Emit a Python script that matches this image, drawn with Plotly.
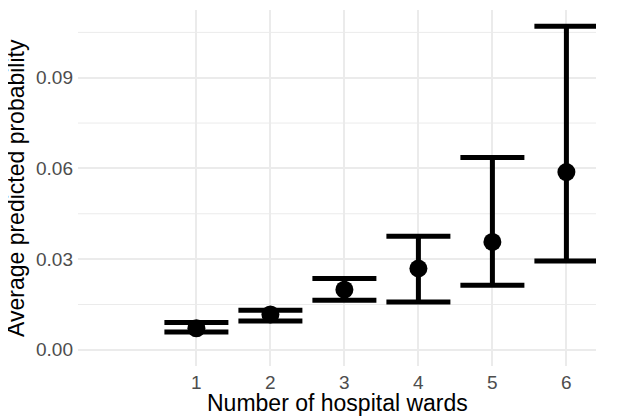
import plotly.graph_objects as go

# values
wards = [1, 2, 3, 4, 5, 6]
prob = [0.0071, 0.0117, 0.0199, 0.0269, 0.0357, 0.0588]
lower = [0.0059, 0.0095, 0.0164, 0.0158, 0.0214, 0.0294]
upper = [0.0090, 0.0131, 0.0236, 0.0376, 0.0636, 0.1070]
y_ticks = [0.00, 0.03, 0.06, 0.09]
y_tick_text = ["0.00", "0.03", "0.06", "0.09"]

FONT = "Liberation Sans, Helvetica, Arial, sans-serif"
GRID = "#EBEBEB"

fig = go.Figure()

# minor grid lines (theme_minimal style)
for v in [0.015, 0.045, 0.075, 0.105]:
    fig.add_hline(y=v, line=dict(color=GRID, width=1), layer="below")

fig.add_trace(go.Scatter(
    x=wards,
    y=prob,
    mode="markers",
    marker=dict(size=18, color="black"),
    error_y=dict(
        type="data",
        symmetric=False,
        array=[u - p for u, p in zip(upper, prob)],
        arrayminus=[p - l for p, l in zip(prob, lower)],
        color="black",
        thickness=5,
        width=32,
    ),
    showlegend=False,
    cliponaxis=False,
))

# page body adds an 8px margin, so the figure is a bit smaller than the window
fig.update_layout(
    width=626,
    height=408,
    margin=dict(l=70, r=38, t=2, b=50),
    paper_bgcolor="white",
    plot_bgcolor="white",
    font=dict(family=FONT, color="black"),
    xaxis=dict(
        range=[-0.6, 6.4],
        tickvals=wards,
        ticktext=[str(w) for w in wards],
        showgrid=True,
        gridcolor=GRID,
        gridwidth=2,
        zeroline=False,
        showline=False,
        ticks="",
        ticklabelstandoff=3,
        automargin=False,
        tickfont=dict(size=19, color="#4D4D4D"),
    ),
    yaxis=dict(
        range=[-0.00535, 0.1124],
        tickvals=y_ticks,
        ticktext=y_tick_text,
        showgrid=True,
        gridcolor=GRID,
        gridwidth=2,
        zeroline=False,
        showline=False,
        ticks="",
        ticklabelstandoff=4,
        automargin=False,
        tickfont=dict(size=19, color="#4D4D4D"),
    ),
    annotations=[
        dict(text="Number of hospital wards", xref="paper", yref="paper",
             x=0.5, y=0, yshift=-37, xanchor="center", yanchor="middle",
             showarrow=False, font=dict(size=23, color="black")),
        dict(text="Average predicted probability", xref="paper", yref="paper",
             x=0, xshift=-62, y=0.5, xanchor="center", yanchor="middle",
             textangle=-90, showarrow=False, font=dict(size=23, color="black")),
    ],
)

fig.write_html("out.html")
